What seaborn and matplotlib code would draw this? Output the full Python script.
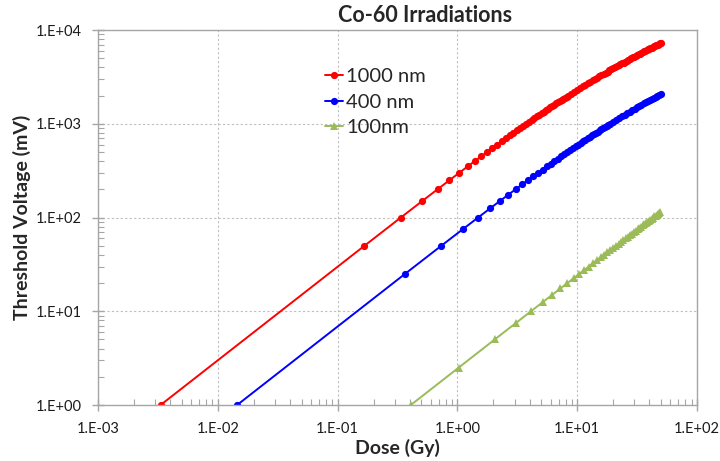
import numpy as np
import matplotlib
matplotlib.use('Agg')
import matplotlib.pyplot as plt
from matplotlib.ticker import FixedLocator, FixedFormatter, LogLocator, NullFormatter
import seaborn as sns
import pandas as pd

# ---- data ----
red_dose = [0.00333, 0.1677, 0.3374, 0.5092, 0.683, 0.859, 1.037, 1.217, 1.399, 1.584,
            1.77, 1.959, 2.15, 2.343, 2.538, 2.736, 2.935, 3.137, 3.341, 3.547,
            3.756, 3.967, 4.18, 4.395, 4.613, 4.833, 5.055, 5.28, 5.507, 5.736,
            5.968, 6.202, 6.438, 6.677, 6.918, 7.162, 7.408, 7.656, 7.907, 8.16,
            8.416, 8.934, 9.462, 10.0, 10.55, 11.11, 11.67, 12.25, 12.84, 13.44,
            14.05, 14.66, 15.29, 15.93, 16.58, 17.24, 17.91, 18.59, 19.28, 19.98,
            20.69, 21.41, 22.14, 22.88, 23.64, 24.4, 25.17, 25.95, 26.75, 27.55,
            28.37, 29.19, 30.03, 30.87, 31.73, 32.6, 33.48, 34.36, 35.26, 36.17,
            37.09, 38.02, 38.96, 39.91, 40.87, 41.84, 42.82, 43.81, 44.82, 45.83,
            46.85, 47.89, 48.93, 49.98]
red_mv = [1, 50, 100, 150, 200, 250, 300, 350, 400, 450,
          500, 550, 600, 650, 700, 750, 800, 850, 900, 950,
          1000, 1050, 1100, 1150, 1200, 1250, 1300, 1350, 1400, 1450,
          1500, 1550, 1600, 1650, 1700, 1750, 1800, 1850, 1900, 1950,
          2000, 2100, 2200, 2300, 2400, 2500, 2600, 2700, 2800, 2900,
          3000, 3100, 3200, 3300, 3400, 3500, 3600, 3700, 3800, 3900,
          4000, 4100, 4200, 4300, 4400, 4500, 4600, 4700, 4800, 4900,
          5000, 5100, 5200, 5300, 5400, 5500, 5600, 5700, 5800, 5900,
          6000, 6100, 6200, 6300, 6400, 6500, 6600, 6700, 6800, 6900,
          7000, 7100, 7200, 7300]

blue_dose = [0.0145, 0.3648, 0.7347, 1.11, 1.49, 1.875, 2.265, 2.66, 3.061, 3.467,
             3.878, 4.295, 4.716, 5.144, 5.576, 6.014, 6.457, 6.906, 7.36, 7.82,
             8.285, 8.755, 9.232, 9.713, 10.2, 10.69, 11.19, 11.7, 12.21, 12.72,
             13.24, 13.77, 14.3, 14.84, 15.38, 15.93, 16.49, 17.05, 17.62, 18.19,
             18.77, 19.94, 21.14, 22.36, 23.6, 24.87, 26.16, 27.48, 28.81, 30.18,
             31.56, 32.97, 34.4, 35.86, 37.34, 38.84, 40.37, 41.92, 43.49, 45.09,
             46.71, 48.36, 50.02]
blue_mv = [1, 25, 50, 75, 100, 125, 150, 175, 200, 225,
           250, 275, 300, 325, 350, 375, 400, 425, 450, 475,
           500, 525, 550, 575, 600, 625, 650, 675, 700, 725,
           750, 775, 800, 825, 850, 875, 900, 925, 950, 975,
           1000, 1050, 1100, 1150, 1200, 1250, 1300, 1350, 1400, 1450,
           1500, 1550, 1600, 1650, 1700, 1750, 1800, 1850, 1900, 1950,
           2000, 2050, 2100]

green_dose = [0.4085, 1.023, 2.049, 3.08, 4.115, 5.153, 6.195, 7.239, 8.287, 9.338,
              10.39, 11.45, 12.51, 13.57, 14.63, 15.7, 16.76, 17.83, 18.91, 19.98,
              21.06, 22.13, 23.21, 24.3, 25.38, 26.46, 27.55, 28.64, 29.73, 30.82,
              31.91, 33.0, 34.1, 35.19, 36.29, 37.39, 38.49, 39.59, 40.69, 41.8,
              42.9, 44.01, 45.12, 46.22, 47.33, 48.44, 49.55]
green_mv = [1, 2.5, 5, 7.5, 10, 12.5, 15, 17.5, 20, 22.5,
            25, 27.5, 30, 32.5, 35, 37.5, 40, 42.5, 45, 47.5,
            50, 52.5, 55, 57.5, 60, 62.5, 65, 67.5, 70, 72.5,
            75, 77.5, 80, 82.5, 85, 87.5, 90, 92.5, 95, 97.5,
            100, 102.5, 105, 107.5, 110, 112.5, 115]

series_names = ["1000 nm", "400 nm", "100nm"]

x_ticks = [1e-3, 1e-2, 1e-1, 1e0, 1e1, 1e2]
x_ticklabels = ["1.E-03", "1.E-02", "1.E-01", "1.E+00", "1.E+01", "1.E+02"]
y_ticks = [1e0, 1e1, 1e2, 1e3, 1e4]
y_ticklabels = ["1.E+00", "1.E+01", "1.E+02", "1.E+03", "1.E+04"]

title = "Co-60 Irradiations"
x_label = "Dose (Gy)"
y_label = "Threshold Voltage (mV)"

# ---- plot ----
sns.set_theme(style="white")
plt.rcParams['font.family'] = ['Lato', 'DejaVu Sans']
fig = plt.figure(figsize=(7.2, 4.61), dpi=100)
ax = fig.add_axes([98/720, 1-405/461, 599/720, 375/461])

series = [(series_names[0], red_dose, red_mv, '#FF0000', 'o', 5.2),
          (series_names[1], blue_dose, blue_mv, '#0000FF', 'o', 5.2),
          (series_names[2], green_dose, green_mv, '#9BBB59', '^', 6)]
for lab, d, y, c, m, ms in series:
    df = pd.DataFrame({"dose": d, "mv": y})
    sns.lineplot(data=df, x="dose", y="mv", color=c, marker=m, ax=ax, estimator=None,
                 sort=False, markersize=ms, markeredgewidth=0, lw=1.4, label=lab)

ax.set_xscale('log'); ax.set_yscale('log')
ax.set_xlim(1e-3, 1e2); ax.set_ylim(1, 1e4)
grey = '#A6A6A6'
for s in ax.spines.values():
    s.set_color(grey); s.set_linewidth(1.0)
ax.xaxis.set_major_locator(FixedLocator(x_ticks))
ax.xaxis.set_major_formatter(FixedFormatter(x_ticklabels))
ax.yaxis.set_major_locator(FixedLocator(y_ticks))
ax.yaxis.set_major_formatter(FixedFormatter(y_ticklabels))
ax.xaxis.set_minor_locator(LogLocator(base=10, subs=np.arange(2, 10)))
ax.yaxis.set_minor_locator(LogLocator(base=10, subs=np.arange(2, 10)))
ax.xaxis.set_minor_formatter(NullFormatter()); ax.yaxis.set_minor_formatter(NullFormatter())
ax.tick_params(which='major', direction='inout', length=8, width=1, color=grey,
               labelsize=10.5, labelcolor='#1a1a1a', pad=8, bottom=True, left=True)
ax.tick_params(which='minor', direction='in', length=4, width=0.8, color=grey,
               bottom=True, left=True)
ax.grid(True, which='major', color='#BFBFBF', linestyle=(0, (2, 2)), linewidth=0.8)
ax.set_xlabel(x_label, fontsize=14, fontweight='bold', labelpad=2)
ax.set_ylabel(y_label, fontsize=14, fontweight='bold', labelpad=3)
fig.text(425/720, 1-16/461, title, fontsize=15.5, fontweight='bold',
         ha='center', va='center')
leg = ax.legend(loc='upper left', bbox_to_anchor=(325/720, 1-68/461),
                bbox_transform=fig.transFigure, frameon=False, fontsize=14.5,
                handlelength=0.9, handletextpad=0.15, labelspacing=0.42,
                borderpad=0, borderaxespad=0)
fig.savefig('out.png')
